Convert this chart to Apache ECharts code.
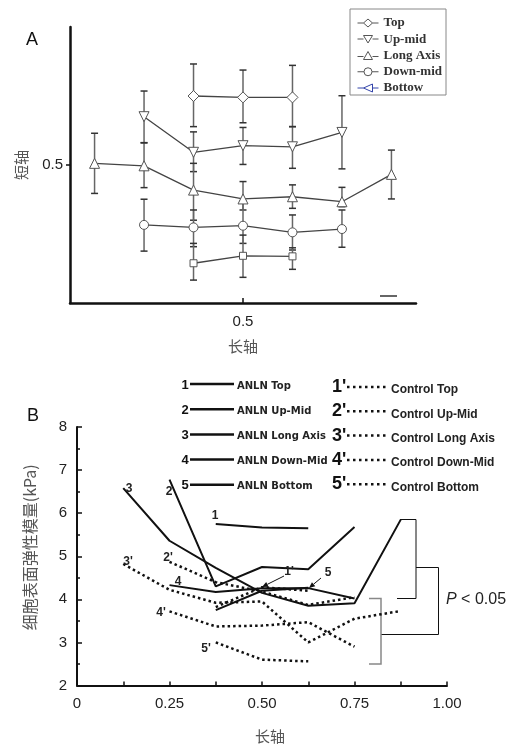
<!DOCTYPE html>
<html>
<head>
<meta charset="utf-8">
<script src="https://cdn.jsdelivr.net/npm/echarts@6/dist/echarts.min.js"></script>
<style>
html, body { margin: 0; padding: 0; background: #fff; }
#chart { width: 506px; height: 745px; }
</style>
</head>
<body>
<div id="chart"></div>
<script>
// ---- panel A: positions along the long axis, 7 slots
const xA = [0.071, 0.214, 0.357, 0.5, 0.643, 0.786, 0.929]
const namesA = ['Top', 'Up-mid', 'Long Axis', 'Down-mid', 'Bottow']

const topA = [null, null, 0.75, 0.745, 0.745, null, null]
const topLow = [null, null, 0.639, 0.653, 0.639, null, null]
const topHigh = [null, null, 0.866, 0.844, 0.861, null, null]

const upMidA = [null, 0.675, 0.546, 0.570, 0.566, 0.618, null]
const upMidLow = [null, 0.581, 0.476, 0.502, 0.488, 0.486, null]
const upMidHigh = [null, 0.768, 0.62, 0.636, 0.639, 0.751, null]

const longA = [0.506, 0.497, 0.409, 0.377, 0.385, 0.367, 0.466]
const longLow = [0.397, 0.418, 0.30, 0.337, 0.343, 0.349, 0.377]
const longHigh = [0.615, 0.58, 0.506, 0.44, 0.428, 0.419, 0.554]

const downMidA = [null, 0.283, 0.274, 0.28, 0.256, 0.268, null]
const downMidLow = [null, 0.188, 0.204, 0.216, 0.192, 0.202, null]
const downMidHigh = [null, 0.376, 0.337, 0.37, 0.319, 0.337, null]

const bottomA = [null, null, 0.144, 0.171, 0.169, null, null]
const bottomLow = [null, null, 0.083, 0.093, 0.122, null, null]
const bottomHigh = [null, null, 0.216, 0.246, 0.2, null, null]

// ---- panel B
const xB = [0.125, 0.25, 0.375, 0.5, 0.625, 0.75, 0.875]
const anlnNames = ['ANLN Top', 'ANLN Up-Mid', 'ANLN Long Axis', 'ANLN Down-Mid', 'ANLN Bottom']
const ctrlNames = ['Control Top', 'Control Up-Mid', 'Control Long Axis', 'Control Down-Mid', 'Control Bottom']
const anlnNums = ['1', '2', '3', '4', '5']
const ctrlNums = ["1'", "2'", "3'", "4'", "5'"]

const anlnTop = [null, null, 5.75, 5.67, 5.65, null, null]
const anlnUpMid = [null, 6.78, 4.30, 4.75, 4.70, 5.68, null]
const anlnLong = [6.58, 5.36, 4.73, 4.15, 3.85, 3.91, 5.85]
const anlnDownMid = [null, 4.33, 4.17, 4.26, 4.26, 4.02, null]
const anlnBottom = [null, null, 3.75, 4.2, 4.27, null, null]

const ctrlTop = [null, null, 3.82, 4.28, 4.2, null, null]
const ctrlUpMid = [null, 4.87, 4.4, 4.18, 3.87, 4.05, null]
const ctrlLong = [4.82, 4.22, 3.92, 3.95, 3.0, 3.55, 3.73]
const ctrlDownMid = [null, 3.72, 3.37, 3.39, 3.47, 2.9, null]
const ctrlBottom = [null, null, 3.0, 2.6, 2.56, null, null]

const yTicksB = ['2', '3', '4', '5', '6', '7', '8']
const xTicksB = ['0', '0.25', '0.50', '0.75', '1.00']

const pairs = (xs, ys) => xs.map((x, i) => [x, ys[i]])
const bars = (xs, ys, lo, hi) => xs.map((x, i) => [x, lo[i], hi[i], ys[i]]).filter(r => r[3] != null)

const sans = 'Liberation Sans'
const cjk = 'Noto Sans CJK SC'

function errorBar(params, api) {
  const x = api.value(0)
  const lo = api.coord([x, api.value(1)])
  const hi = api.coord([x, api.value(2)])
  const cap = 3.5
  const bar = { stroke: '#666', lineWidth: 1.5 }
  const capStyle = { stroke: '#333', lineWidth: 1.5 }
  return {
    type: 'group',
    children: [
      { type: 'line', shape: { x1: lo[0], y1: lo[1], x2: hi[0], y2: hi[1] }, style: bar },
      { type: 'line', shape: { x1: lo[0] - cap, y1: lo[1], x2: lo[0] + cap, y2: lo[1] }, style: capStyle },
      { type: 'line', shape: { x1: hi[0] - cap, y1: hi[1], x2: hi[0] + cap, y2: hi[1] }, style: capStyle }
    ]
  }
}

const groupsA = [
  { name: 'Top', v: topA, lo: topLow, hi: topHigh, symbol: 'diamond', size: 11, rot: 0 },
  { name: 'Up-mid', v: upMidA, lo: upMidLow, hi: upMidHigh, symbol: 'triangle', size: 10, rot: 180 },
  { name: 'Long Axis', v: longA, lo: longLow, hi: longHigh, symbol: 'triangle', size: 10, rot: 0 },
  { name: 'Down-mid', v: downMidA, lo: downMidLow, hi: downMidHigh, symbol: 'circle', size: 9, rot: 0 },
  { name: 'Bottow', v: bottomA, lo: bottomLow, hi: bottomHigh, symbol: 'rect', size: 7, rot: 0 }
]

const iconsA = [
  'path://M0,4H6M6,4L10.5,0L15,4L10.5,8ZM15,4H21',
  'path://M0,4H6M6,0.5H15L10.5,8ZM15,4H21',
  'path://M0,5H6M10.5,0L15,8H6ZM15,5H21',
  'path://M0,4H6.5M6.5,4A4,4,0,1,1,14.5,4A4,4,0,1,1,6.5,4ZM14.5,4H21',
  'path://M0,4H6M6,4L15,0V8ZM15,4H21'
]

const series = []
groupsA.forEach(g => {
  series.push({
    type: 'custom', xAxisIndex: 0, yAxisIndex: 0, z: 1,
    renderItem: errorBar, encode: { x: 0, y: [1, 2] },
    data: bars(xA, g.v, g.lo, g.hi), silent: true
  })
})
groupsA.forEach(g => {
  series.push({
    name: g.name, type: 'line', xAxisIndex: 0, yAxisIndex: 0, z: 3,
    data: pairs(xA, g.v), symbol: g.symbol, symbolSize: g.size, symbolRotate: g.rot,
    lineStyle: { color: '#444', width: 1.3 },
    itemStyle: { color: '#fff', borderColor: '#555', borderWidth: 1 }
  })
})

const solidB = [anlnTop, anlnUpMid, anlnLong, anlnDownMid, anlnBottom]
const dottedB = [ctrlTop, ctrlUpMid, ctrlLong, ctrlDownMid, ctrlBottom]
solidB.forEach((vals, i) => {
  series.push({
    name: anlnNames[i], type: 'line', xAxisIndex: 1, yAxisIndex: 1, symbol: 'none',
    data: pairs(xB, vals), lineStyle: { color: '#111', width: 2 }
  })
})
dottedB.forEach((vals, i) => {
  series.push({
    name: ctrlNames[i], type: 'line', xAxisIndex: 1, yAxisIndex: 1, symbol: 'none',
    data: pairs(xB, vals), lineStyle: { color: '#111', width: 2.5, type: [2.5, 3] }
  })
})

// legend for panel B drawn as graphic rows
const graphic = []
anlnNames.forEach((n, i) => {
  const y = 385 + i * 25.2
  graphic.push({ type: 'text', x: 185, y: y, style: { text: anlnNums[i], font: 'bold 13px ' + sans, fill: '#111', align: 'center', verticalAlign: 'middle' } })
  graphic.push({ type: 'line', shape: { x1: 190, y1: y - 1, x2: 234, y2: y - 1 }, style: { stroke: '#111', lineWidth: 2.5 } })
  graphic.push({ type: 'text', x: 237, y: y + 1, style: { text: n, font: 'bold 10px DejaVu Sans', fill: '#222', verticalAlign: 'middle' } })
})
ctrlNames.forEach((n, i) => {
  const y = 389 + i * 24.3
  graphic.push({ type: 'text', x: 332, y: y - 2, style: { text: ctrlNums[i], font: 'bold 18px ' + sans, fill: '#111', verticalAlign: 'middle' } })
  graphic.push({ type: 'line', shape: { x1: 347, y1: y - 2, x2: 389, y2: y - 2 }, style: { stroke: '#111', lineWidth: 2.5, lineDash: [2.5, 3.5] } })
  graphic.push({ type: 'text', x: 391, y: y + 1, style: { text: n, font: 'bold 12px ' + sans, fill: '#222', verticalAlign: 'middle' } })
})

// curve number labels in panel B
const numLabels = [
  ['3', 129, 489], ['2', 169, 492], ['1', 215, 516], ["2'", 168, 558], ["3'", 128, 562],
  ['4', 178, 582], ["4'", 161, 613], ["5'", 206, 649], ["1'", 289, 572], ['5', 328, 573]
]
numLabels.forEach(([t, x, y]) => {
  graphic.push({ type: 'text', x: x, y: y, z: 10, style: { text: t, font: 'bold 12px ' + sans, fill: '#222', align: 'center', verticalAlign: 'middle' } })
})

function arrow(x1, y1, x2, y2) {
  const a = Math.atan2(y2 - y1, x2 - x1)
  const L = 6, W = 2.6
  const bx = x2 - L * Math.cos(a), by = y2 - L * Math.sin(a)
  graphic.push({ type: 'line', z: 10, shape: { x1, y1, x2: bx, y2: by }, style: { stroke: '#111', lineWidth: 1 } })
  graphic.push({ type: 'polygon', z: 10, shape: { points: [[x2, y2], [bx + W * Math.sin(a), by - W * Math.cos(a)], [bx - W * Math.sin(a), by + W * Math.cos(a)]] }, style: { fill: '#111' } })
}
arrow(284, 576, 262, 587)
arrow(321, 578, 309, 588)

// significance brackets
graphic.push({ type: 'polyline', shape: { points: [[400, 519.5], [416, 519.5], [416, 598.5], [397, 598.5]] }, style: { stroke: '#111', lineWidth: 1, fill: null } })
graphic.push({ type: 'polyline', shape: { points: [[416, 567.5], [438.5, 567.5], [438.5, 634.5], [381, 634.5]] }, style: { stroke: '#111', lineWidth: 1, fill: null } })
graphic.push({ type: 'polyline', shape: { points: [[369, 598.5], [381, 598.5], [381, 664], [369, 664]] }, style: { stroke: '#888', lineWidth: 1.5, fill: null } })
graphic.push({
  type: 'text', x: 446, y: 600,
  style: {
    text: '{i|P} < 0.05', font: '16px ' + sans, fill: '#222', verticalAlign: 'middle',
    rich: { i: { fontStyle: 'italic', fontSize: 16, fontFamily: sans, fill: '#222' } }
  }
})

// panel letters and the little dash in panel A
graphic.push({ type: 'text', x: 26, y: 40, style: { text: 'A', font: '18px ' + sans, fill: '#111', verticalAlign: 'middle' } })
graphic.push({ type: 'text', x: 27, y: 416, style: { text: 'B', font: '18px ' + sans, fill: '#111', verticalAlign: 'middle' } })
graphic.push({ type: 'line', shape: { x1: 380, y1: 296, x2: 397, y2: 296 }, style: { stroke: '#333', lineWidth: 1.5 } })

const option = {
  animation: false,
  backgroundColor: '#fff',
  grid: [
    { left: 70, top: 27, width: 346, height: 276 },
    { left: 77, top: 427, width: 370, height: 258.5 }
  ],
  legend: {
    orient: 'vertical', left: 350, top: 9,
    padding: [7.5, 4, 0.5, 7], itemGap: 3.25, itemWidth: 21, itemHeight: 8,
    borderColor: '#888', borderWidth: 1, backgroundColor: '#fff',
    textStyle: { fontFamily: 'Liberation Serif', fontWeight: 'bold', fontSize: 13, color: '#333', lineHeight: 13 },
    itemStyle: { color: '#fff', borderColor: '#555', borderWidth: 1 },
    selectedMode: false,
    data: namesA.map((n, i) => ({
      name: n, icon: iconsA[i],
      itemStyle: i === 4 ? { color: '#fff', borderColor: '#3344aa', borderWidth: 1 } : undefined,
      textStyle: { color: '#333' }
    }))
  },
  xAxis: [
    {
      gridIndex: 0, type: 'value', min: 0, max: 1, interval: 0.5,
      axisLine: { lineStyle: { color: '#111', width: 2.5 } },
      axisTick: { inside: true, length: 5, customValues: [0.5], lineStyle: { color: '#111', width: 1.5 } },
      axisLabel: { customValues: [0.5], formatter: v => (v === 0.5 ? '0.5' : ''), margin: 11, fontSize: 15, fontFamily: sans, color: '#222' },
      splitLine: { show: false },
      name: '长轴', nameLocation: 'middle', nameGap: 36,
      nameTextStyle: { fontFamily: cjk, fontSize: 15, color: '#555' }
    },
    {
      gridIndex: 1, type: 'value', min: 0, max: 1, interval: 0.125,
      axisLine: { lineStyle: { color: '#111', width: 2 } },
      axisTick: { inside: true, length: 4, lineStyle: { color: '#111', width: 1.5 } },
      axisLabel: {
        formatter: v => { const k = Math.round(v * 4); return Math.abs(v * 4 - k) < 1e-6 ? xTicksB[k] : '' },
        margin: 11, fontSize: 15, fontFamily: sans, color: '#222'
      },
      splitLine: { show: false },
      name: '长轴', nameLocation: 'middle', nameGap: 43,
      nameTextStyle: { fontFamily: cjk, fontSize: 15, color: '#555', padding: [0, 0, 0, 16] }
    }
  ],
  yAxis: [
    {
      gridIndex: 0, type: 'value', min: 0, max: 1, interval: 0.5,
      axisLine: { show: true, lineStyle: { color: '#111', width: 2.5 } },
      axisTick: { show: true, length: 4, customValues: [0.5], lineStyle: { color: '#111', width: 1.5 } },
      axisLabel: { customValues: [0.5], formatter: v => (v === 0.5 ? '0.5' : ''), margin: 7, fontSize: 15, fontFamily: sans, color: '#222' },
      splitLine: { show: false },
      name: '短轴', nameLocation: 'middle', nameGap: 41,
      nameTextStyle: { fontFamily: cjk, fontSize: 15, color: '#555' }
    },
    {
      gridIndex: 1, type: 'value', min: 2, max: 8, interval: 1,
      axisLine: { show: true, lineStyle: { color: '#111', width: 2 } },
      axisTick: { show: true, inside: true, length: 5, lineStyle: { color: '#111', width: 1.5 } },
      minorTick: { show: true, splitNumber: 2, length: 3, lineStyle: { color: '#111', width: 1.5 } },
      axisLabel: { formatter: v => yTicksB[Math.round(v) - 2], margin: 10, fontSize: 15, fontFamily: sans, color: '#222' },
      splitLine: { show: false },
      name: '细胞表面弹性模量(kPa)', nameLocation: 'middle', nameGap: 39,
      nameTextStyle: { fontFamily: cjk, fontSize: 16, color: '#555', padding: [0, 0, 0, 18] }
    }
  ],
  series: series,
  graphic: graphic
}

const chart = echarts.init(document.getElementById('chart'))
chart.setOption(option)
</script>
</body>
</html>
